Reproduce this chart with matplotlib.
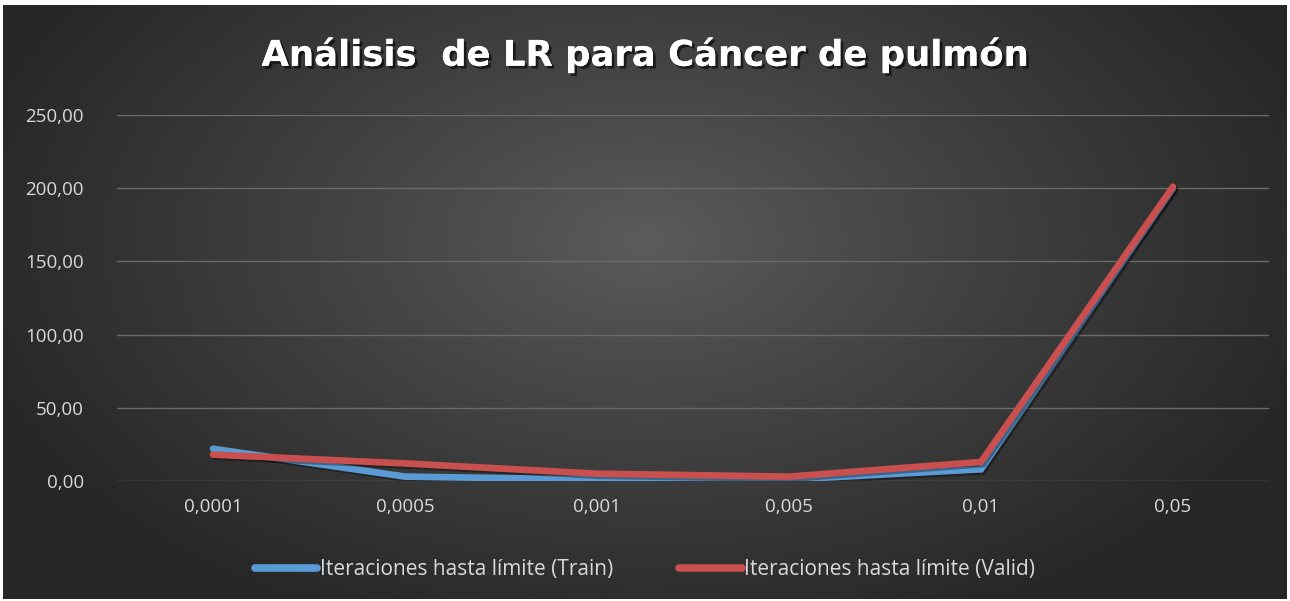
import numpy as np
import matplotlib
matplotlib.use("Agg")
import matplotlib.pyplot as plt
import matplotlib.patheffects as pe

# data
lr_labels = ["0,0001", "0,0005", "0,001", "0,005", "0,01", "0,05"]
train_iters = [22, 3, 1, 1, 8, 200]
valid_iters = [18, 12, 5, 3, 13, 201]
y_ticks = [0, 50, 100, 150, 200, 250]

W, H = 1290, 601
fig = plt.figure(figsize=(W / 100, H / 100), dpi=100)

# radial dark gradient background
bg = fig.add_axes([0, 0, 1, 1], zorder=-10)
yy, xx = np.mgrid[0:H, 0:W]
r = np.sqrt(((xx - 645) / 700.0) ** 2 + ((yy - 240) / 420.0) ** 2)
r = np.clip(r, 0, 1)
c_in, c_out = 0x5c / 255.0, 0x27 / 255.0
shade = c_in + (c_out - c_in) * r ** 0.9
img = np.dstack([shade, shade, shade])
# thin white frame like the screenshot
img[:5, :, :] = 1
img[:, :3, :] = 1
img[-2:, :, :] = 1
img[:, -3:, :] = 1
bg.imshow(img, aspect="auto", extent=[0, 1, 0, 1])
bg.axis("off")

ax = fig.add_axes([117 / W, (H - 481) / H, (1269 - 117) / W, (481 - 115) / H])
ax.patch.set_alpha(0)

x = np.arange(len(lr_labels))
shadow = [pe.SimpleLineShadow(offset=(1.5, -1.5), alpha=0.35, shadow_color="black"), pe.Normal()]
ax.plot(x, train_iters, color="#5B9BD5", lw=4.8, solid_capstyle="round",
        solid_joinstyle="miter", label="Iteraciones hasta límite (Train)", path_effects=shadow, zorder=3)
ax.plot(x, valid_iters, color="#C9504E", lw=4.8, solid_capstyle="round",
        solid_joinstyle="miter", label="Iteraciones hasta límite (Valid)", path_effects=shadow, zorder=4)

ax.set_xlim(-0.5, len(lr_labels) - 0.5)
ax.set_ylim(0, 250)
ax.set_yticks(y_ticks)
ax.set_yticklabels([f"{v:.2f}".replace(".", ",") for v in y_ticks])
ax.set_xticks(x)
ax.set_xticklabels(lr_labels)
ax.grid(axis="y", color="#6a6a6a", lw=1.0)
ax.set_axisbelow(True)
for s in ax.spines.values():
    s.set_visible(False)
ax.tick_params(length=0, colors="#d9d9d9", labelsize=13.5)
ax.tick_params(axis="y", pad=24)
ax.tick_params(axis="x", pad=12)
for lab in ax.get_xticklabels() + ax.get_yticklabels():
    lab.set_family("Open Sans")

fig.text(0.5, 1 - 55 / H, "Análisis  de LR para Cáncer de pulmón", ha="center", va="center",
         color="white", fontsize=25.5, fontweight="bold", family="DejaVu Sans",
         path_effects=[pe.withSimplePatchShadow(offset=(2, -2), alpha=0.6, shadow_rgbFace="black"), pe.Normal()])

leg = fig.legend(loc="center", bbox_to_anchor=(0.5, 1 - 570 / H), ncol=2, frameon=False,
                 labelcolor="#d9d9d9", handlelength=3.0, handletextpad=0.1,
                 columnspacing=3.2, prop={"family": "Open Sans", "size": 15})
for line in leg.get_lines():
    line.set_linewidth(5.5)
    line.set_path_effects([])

fig.savefig("out.png", dpi=100)
